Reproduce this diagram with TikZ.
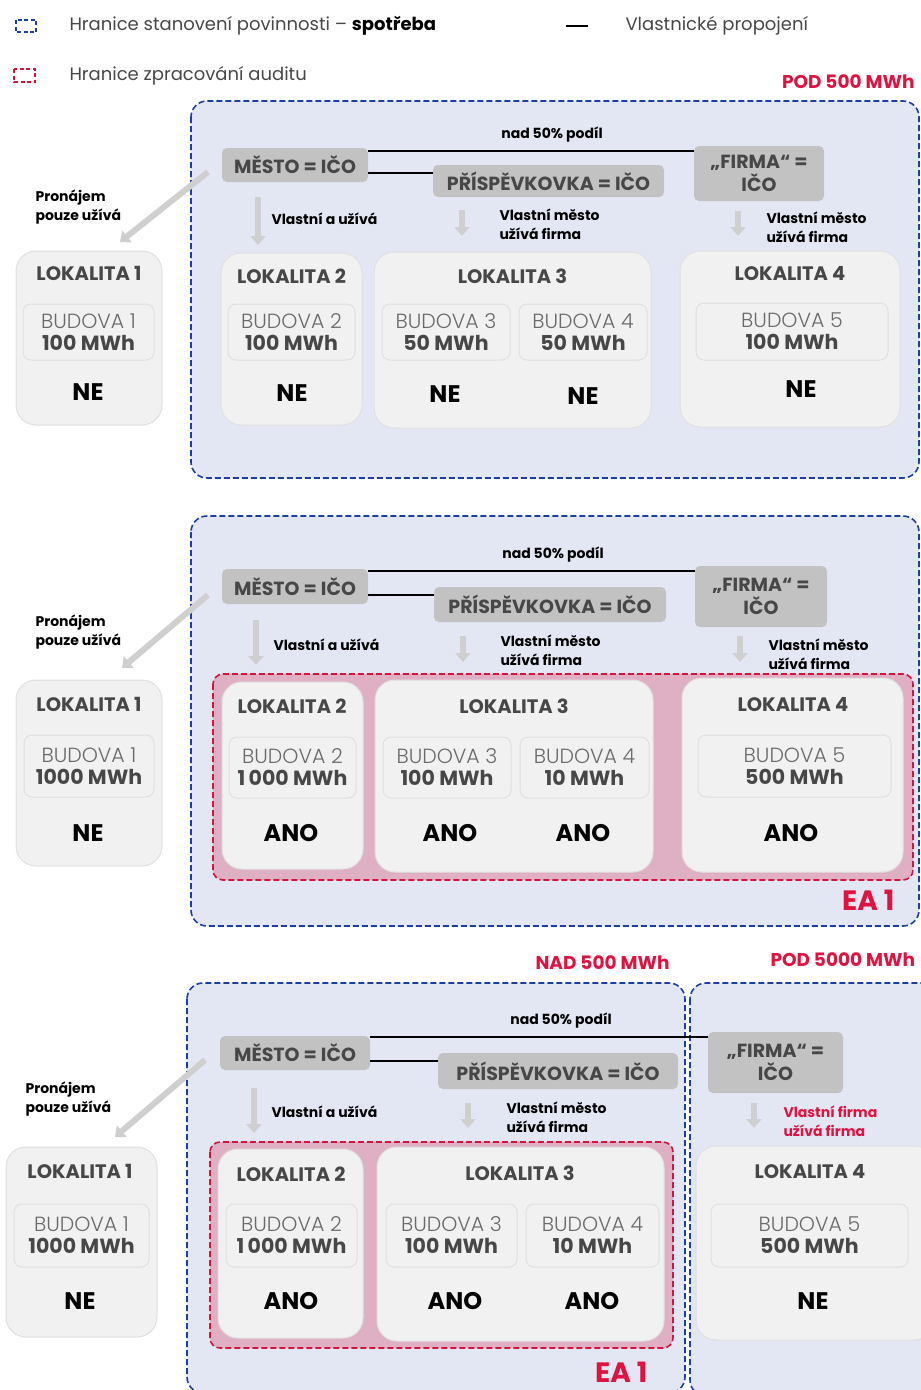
\documentclass[tikz,border=0pt]{standalone}
\usepackage{fontspec}
\setmainfont{Poppins}
\newfontfamily\lightfont{Poppins Light}
\usetikzlibrary{arrows.meta}

\definecolor{panelblue}{HTML}{E3E7F3}
\definecolor{borderblue}{HTML}{1D3FA0}
\definecolor{auditpink}{HTML}{DFB0C3}
\definecolor{auditred}{HTML}{D3143F}
\definecolor{labelred}{HTML}{E0123F}
\definecolor{boxgray}{HTML}{C2C2C2}
\definecolor{lokfill}{HTML}{F1F1F1}
\definecolor{lokline}{HTML}{E0E0E0}
\definecolor{textgray}{HTML}{474747}
\definecolor{budgray}{HTML}{6A6A6A}
\definecolor{arrowgray}{HTML}{CFCFCF}

\tikzset{
  panel/.style={draw=borderblue, fill=panelblue, line width=1.6pt, dash pattern=on 6pt off 3pt, rounded corners=16pt},
  audit/.style={draw=auditred, fill=auditpink, line width=1.6pt, dash pattern=on 6pt off 3pt, rounded corners=10pt},
  ownerbox/.style={fill=boxgray, rounded corners=5pt, text=textgray, inner sep=0pt, align=center,
    font=\bfseries\fontsize{19}{23}\selectfont},
  lokbox/.style={draw=lokline, fill=lokfill, line width=1pt, rounded corners=20pt, inner sep=0pt},
  budbox/.style={draw=lokline, fill=lokfill, line width=1pt, rounded corners=8pt, inner sep=0pt, align=center,
    font=\fontsize{20.5}{22}\selectfont},
  loktitle/.style={text=textgray, font=\bfseries\fontsize{19.5}{22}\selectfont},
  verdict/.style={font=\bfseries\fontsize{24}{26}\selectfont},
  note/.style={anchor=west, align=left, font=\bfseries\fontsize{14}{19}\selectfont},
  owns/.style={line width=2pt},
  usearrow/.style={draw=arrowgray, line width=6pt, -{Triangle[width=15pt,length=9pt]}},
  limit/.style={text=labelred, font=\bfseries\fontsize{18.5}{20}\selectfont},
  legend/.style={anchor=west, text=textgray, font=\fontsize{18}{20}\selectfont},
}
\newcommand{\bud}[2]{{\lightfont\color{budgray}#1}\\{\bfseries\color{textgray}#2}}

\begin{document}
\begin{tikzpicture}[x=1pt, y=-1pt]
  \useasboundingbox (0,0) rectangle (921,1390);

  % Legend
  \draw[borderblue, line width=1.6pt, dash pattern=on 4pt off 2.5pt] (16,20) rectangle (36,32);
  \node[legend] (leg1) at (66,26) {Hranice stanovení povinnosti -- \textbf{\color{black}spotřeba}};
  \draw[auditred, line width=1.6pt, dash pattern=on 4pt off 2.5pt] (14,69) rectangle (35,82);
  \node[legend] (leg2) at (66,76) {Hranice zpracování auditu};
  \draw[line width=2.5pt] (566,26) -- (588,26);
  \node[legend] (leg3) at (622,26) {Vlastnické propojení};

  % ---------------- Case 1: under 500 MWh ----------------
  \node[limit, anchor=east] (lim1) at (918,82) {POD 500 MWh};
  \draw[panel] (191,101) rectangle (919,478);

  \node[ownerbox, minimum width=146pt, minimum height=34pt] (mesto1) at (295,165) {MĚSTO = IČO};
  \node[ownerbox, minimum width=231pt, minimum height=32pt] (pris1) at (548.5,181) {PŘÍSPĚVKOVKA = IČO};
  \node[ownerbox, minimum width=130pt, minimum height=55pt] (firma1) at (759,173.5) {„FIRMA“ =\\IČO};
  \draw[owns] ([yshift=14pt]mesto1.east) -- ([yshift=14pt]mesto1.east -| firma1.west);
  \draw[owns] ([yshift=-8pt]mesto1.east) -- ([yshift=-8pt]mesto1.east -| pris1.west);
  \node[font=\bfseries\fontsize{14}{16}\selectfont] (share1) at (552,135) {nad 50\% podíl};

  \node[lokbox, minimum width=146pt, minimum height=174pt] (lok1a) at (89,338) {};
  \node[loktitle] (t1a) at (89,273) {LOKALITA 1};
  \node[budbox, minimum width=131pt, minimum height=56pt] (bud1a) at (88.5,332) {\bud{BUDOVA 1}{100 MWh}};
  \node[verdict] (v1a) at (88,392) {NE};

  \node[lokbox, minimum width=141pt, minimum height=172pt] (lok1b) at (291.5,339) {};
  \node[loktitle] (t1b) at (291.5,276) {LOKALITA 2};
  \node[budbox, minimum width=127pt, minimum height=56pt] (bud1b) at (291.5,332) {\bud{BUDOVA 2}{100 MWh}};
  \node[verdict] (v1b) at (292,393) {NE};

  \node[lokbox, minimum width=277pt, minimum height=176pt] (lok1c) at (512.5,340) {};
  \node[loktitle] (t1c) at (512.5,276) {LOKALITA 3};
  \node[budbox, minimum width=128pt, minimum height=56pt] (bud1c) at (446,332) {\bud{BUDOVA 3}{50 MWh}};
  \node[budbox, minimum width=128pt, minimum height=56pt] (bud1d) at (583,332) {\bud{BUDOVA 4}{50 MWh}};
  \node[verdict] (v1c) at (445,394) {NE};
  \node[verdict] (v1d) at (583,396) {NE};

  \node[lokbox, minimum width=220pt, minimum height=176pt] (lok1d) at (790,339) {};
  \node[loktitle] (t1d) at (790,274) {LOKALITA 4};
  \node[budbox, minimum width=192pt, minimum height=57pt] (bud1e) at (792,331.5) {\bud{BUDOVA 5}{100 MWh}};
  \node[verdict] (v1e) at (801,389) {NE};

  % use arrows
  \coordinate (r1s) at (208,172); \coordinate (r1e) at (120,242);
  \draw[usearrow] (r1s) -- (r1e);
  \node[note] (n1a) at (32,207) {Pronájem\\pouze užívá};
  \coordinate (d1s) at (258,197); \coordinate (d1e) at (258,245);
  \draw[usearrow] (d1s) -- (d1e);
  \node[note] (n1b) at (268,219) {Vlastní a užívá};
  \coordinate (p1s) at (462,210); \coordinate (p1e) at (462,236);
  \draw[usearrow] (p1s) -- (p1e);
  \node[note] (n1c) at (496,224) {Vlastní město\\užívá firma};
  \coordinate (f1s) at (738,211); \coordinate (f1e) at (738,236);
  \draw[usearrow] (f1s) -- (f1e);
  \node[note] (n1d) at (763,227.5) {Vlastní město\\užívá firma};

  % ---------------- Case 2: over 500 MWh ----------------
  \draw[panel] (191,516) rectangle (919,926);
  \draw[audit] (213,674) rectangle (913,880);
  \node[limit, font=\bfseries\fontsize{28}{30}\selectfont, anchor=east] (ea2) at (898,900) {EA 1};

  \node[ownerbox, minimum width=146pt, minimum height=35pt] (mesto2) at (295,586.5) {MĚSTO = IČO};
  \node[ownerbox, minimum width=232pt, minimum height=35pt] (pris2) at (550,604.5) {PŘÍSPĚVKOVKA = IČO};
  \node[ownerbox, minimum width=132pt, minimum height=61pt] (firma2) at (761,596.5) {„FIRMA“ =\\IČO};
  \draw[owns] ([yshift=15.5pt]mesto2.east) -- ([yshift=15.5pt]mesto2.east -| firma2.west);
  \draw[owns] ([yshift=-8.5pt]mesto2.east) -- ([yshift=-8.5pt]mesto2.east -| pris2.west);
  \node[font=\bfseries\fontsize{14}{16}\selectfont] (share2) at (553,555) {nad 50\% podíl};

  \node[lokbox, minimum width=146pt, minimum height=186pt] (lok2a) at (89,773) {};
  \node[loktitle] (t2a) at (89,704) {LOKALITA 1};
  \node[budbox, minimum width=130pt, minimum height=62pt] (bud2a) at (89,766) {\bud{BUDOVA 1}{1000 MWh}};
  \node[verdict] (v2a) at (88,833) {NE};

  \node[lokbox, minimum width=141pt, minimum height=187pt] (lok2b) at (292.5,775.5) {};
  \node[loktitle] (t2b) at (292,706) {LOKALITA 2};
  \node[budbox, minimum width=127pt, minimum height=61pt] (bud2b) at (292.5,767.5) {\bud{BUDOVA 2}{1\,000 MWh}};
  \node[verdict] (v2b) at (291,833) {ANO};

  \node[lokbox, minimum width=278pt, minimum height=192pt] (lok2c) at (514,776) {};
  \node[loktitle] (t2c) at (514,706) {LOKALITA 3};
  \node[budbox, minimum width=128pt, minimum height=61pt] (bud2c) at (447,767.5) {\bud{BUDOVA 3}{100 MWh}};
  \node[budbox, minimum width=129pt, minimum height=61pt] (bud2d) at (584.5,767.5) {\bud{BUDOVA 4}{10 MWh}};
  \node[verdict] (v2c) at (450,833) {ANO};
  \node[verdict] (v2d) at (583,833) {ANO};

  \node[lokbox, minimum width=221pt, minimum height=194pt] (lok2d) at (792.5,775) {};
  \node[loktitle] (t2d) at (793,705) {LOKALITA 4};
  \node[budbox, minimum width=193pt, minimum height=62pt] (bud2e) at (794.5,766) {\bud{BUDOVA 5}{500 MWh}};
  \node[verdict] (v2e) at (791,833) {ANO};

  % use arrows
  \coordinate (r2s) at (208,595); \coordinate (r2e) at (122,668);
  \draw[usearrow] (r2s) -- (r2e);
  \node[note] (n2a) at (32,632.5) {Pronájem\\pouze užívá};
  \coordinate (d2s) at (256,620); \coordinate (d2e) at (256,665);
  \draw[usearrow] (d2s) -- (d2e);
  \node[note] (n2b) at (270,645) {Vlastní a užívá};
  \coordinate (p2s) at (463,636); \coordinate (p2e) at (463,662);
  \draw[usearrow] (p2s) -- (p2e);
  \node[note] (n2c) at (497,650) {Vlastní město\\užívá firma};
  \coordinate (f2s) at (740,636); \coordinate (f2e) at (740,662);
  \draw[usearrow] (f2s) -- (f2e);
  \node[note] (n2d) at (765,654) {Vlastní město\\užívá firma};

  % ---------------- Case 3: split by the firm ----------------
  \node[limit, anchor=east] (lim3a) at (673,963) {NAD 500 MWh};
  \node[limit, anchor=west] (lim3b) at (767,960) {POD 5000 MWh};
  \draw[panel] (187,983) rectangle (685,1393);
  \draw[panel] (690,983) rectangle (940,1396);
  \draw[audit] (210,1142) rectangle (673,1348);
  \node[limit, font=\bfseries\fontsize{28}{30}\selectfont, anchor=east] (ea3) at (651,1372) {EA 1};

  \node[ownerbox, minimum width=150pt, minimum height=34pt] (mesto3) at (295,1053) {MĚSTO = IČO};
  \node[ownerbox, minimum width=240pt, minimum height=36pt] (pris3) at (558,1071) {PŘÍSPĚVKOVKA = IČO};
  \node[ownerbox, minimum width=135pt, minimum height=61pt] (firma3) at (775.5,1062.5) {„FIRMA“ =\\IČO};
  \draw[owns] ([yshift=16pt]mesto3.east) -- ([yshift=16pt]mesto3.east -| firma3.west);
  \draw[owns] ([yshift=-8pt]mesto3.east) -- ([yshift=-8pt]mesto3.east -| pris3.west);
  \node[font=\bfseries\fontsize{14}{16}\selectfont] (share3) at (561,1021) {nad 50\% podíl};

  \node[lokbox, minimum width=151pt, minimum height=190pt] (lok3a) at (81.5,1242) {};
  \node[loktitle] (t3a) at (80,1171) {LOKALITA 1};
  \node[budbox, minimum width=135pt, minimum height=63pt] (bud3a) at (81.5,1235.5) {\bud{BUDOVA 1}{1000 MWh}};
  \node[verdict] (v3a) at (80,1301) {NE};

  \node[lokbox, minimum width=145pt, minimum height=189pt] (lok3b) at (290.5,1243.5) {};
  \node[loktitle] (t3b) at (291,1174) {LOKALITA 2};
  \node[budbox, minimum width=131pt, minimum height=63pt] (bud3b) at (291.5,1235.5) {\bud{BUDOVA 2}{1\,000 MWh}};
  \node[verdict] (v3b) at (291,1301) {ANO};

  \node[lokbox, minimum width=287pt, minimum height=194pt] (lok3c) at (520.5,1244) {};
  \node[loktitle] (t3c) at (520,1173) {LOKALITA 3};
  \node[budbox, minimum width=131pt, minimum height=63pt] (bud3c) at (451.5,1235.5) {\bud{BUDOVA 3}{100 MWh}};
  \node[budbox, minimum width=133pt, minimum height=63pt] (bud3d) at (592.5,1235.5) {\bud{BUDOVA 4}{10 MWh}};
  \node[verdict] (v3c) at (455,1301) {ANO};
  \node[verdict] (v3d) at (592,1301) {ANO};

  \node[lokbox, minimum width=239pt, minimum height=194pt] (lok3d) at (815.5,1243) {};
  \node[loktitle] (t3d) at (810,1172) {LOKALITA 4};
  \node[budbox, minimum width=197pt, minimum height=63pt] (bud3e) at (809.5,1235.5) {\bud{BUDOVA 5}{500 MWh}};
  \node[verdict] (v3e) at (813,1301) {NE};

  % use arrows
  \coordinate (r3s) at (205,1060); \coordinate (r3e) at (115,1137);
  \draw[usearrow] (r3s) -- (r3e);
  \node[note] (n3a) at (22,1099.5) {Pronájem\\pouze užívá};
  \coordinate (d3s) at (254,1088); \coordinate (d3e) at (254,1133);
  \draw[usearrow] (d3s) -- (d3e);
  \node[note] (n3b) at (268,1112) {Vlastní a užívá};
  \coordinate (p3s) at (468,1103); \coordinate (p3e) at (468,1128);
  \draw[usearrow] (p3s) -- (p3e);
  \node[note] (n3c) at (503,1117.5) {Vlastní město\\užívá firma};
  \coordinate (f3s) at (754,1103); \coordinate (f3e) at (754,1128);
  \draw[usearrow] (f3s) -- (f3e);
  \node[note, text=labelred] (n3d) at (780,1121) {Vlastní firma\\užívá firma};
\end{tikzpicture}
\end{document}
